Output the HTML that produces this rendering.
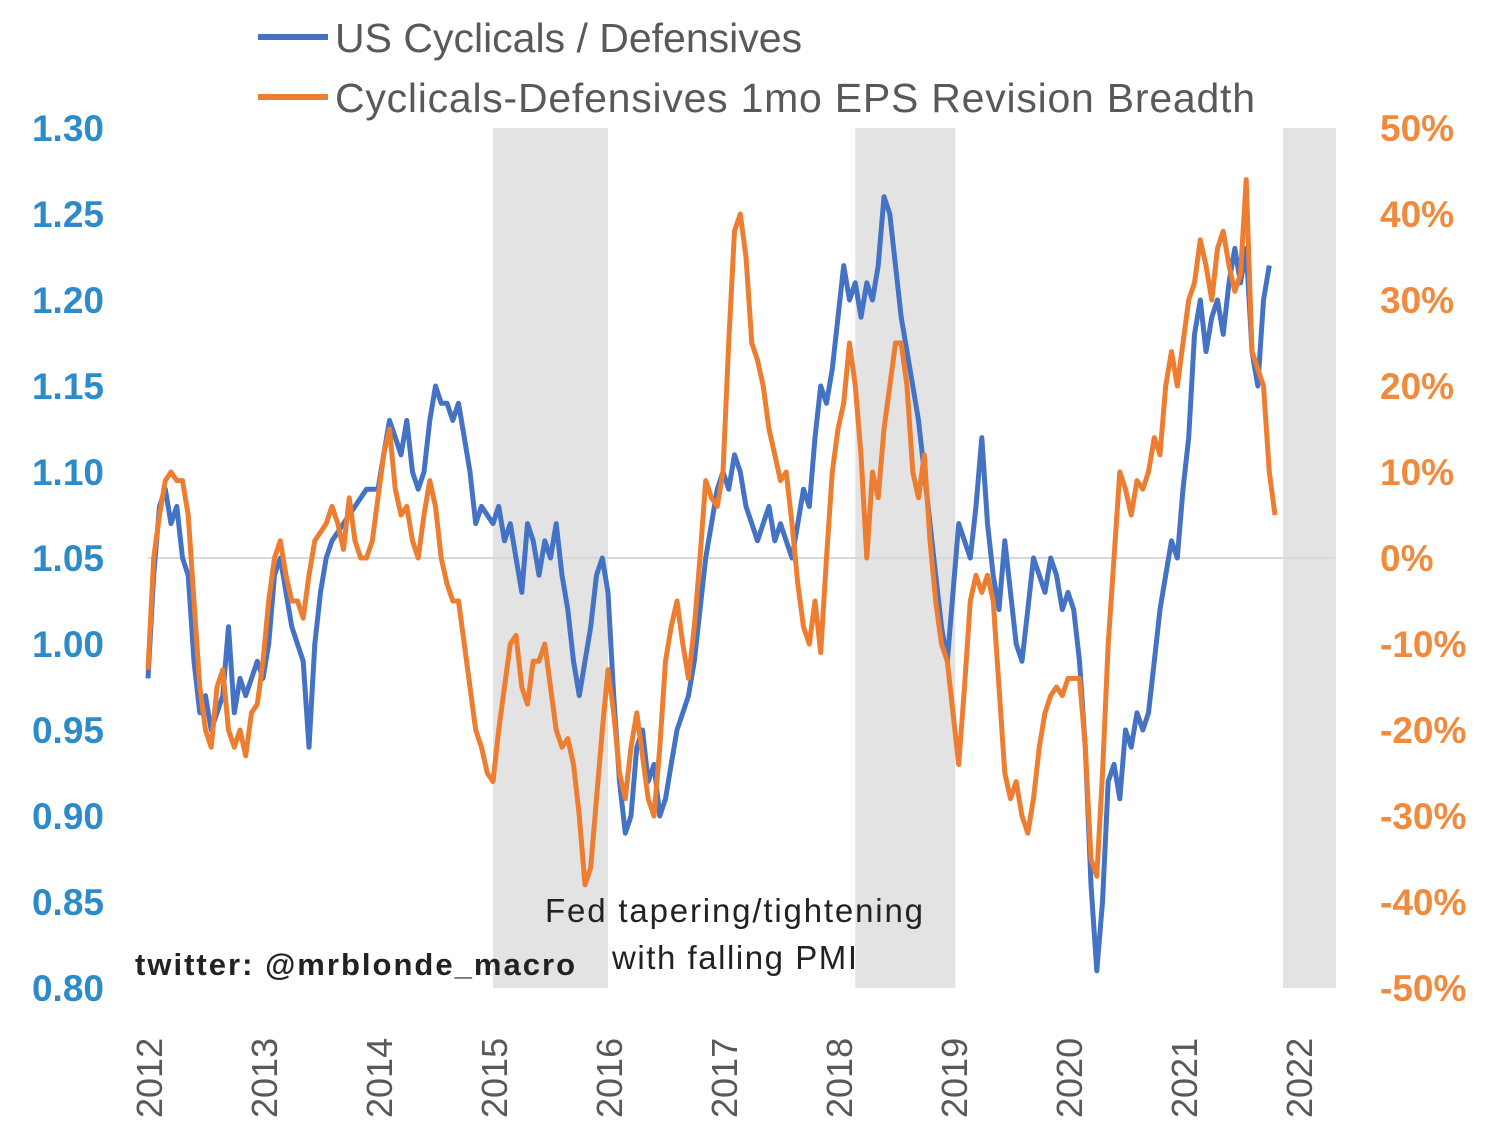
<!DOCTYPE html>
<html><head><meta charset="utf-8">
<style>
html,body{margin:0;padding:0;background:#fff;}
svg{display:block;font-family:"Liberation Sans",sans-serif;}
</style></head>
<body>
<svg id="chart" width="1500" height="1131" viewBox="0 0 1500 1131">
  <g id="shades"></g>
  <line x1="148" y1="558" x2="1336" y2="558" stroke="#d9d9d9" stroke-width="2"/>
  <g id="leftAxis"></g>
  <g id="rightAxis"></g>
  <g id="xAxis"></g>
  <g id="series"></g>
  <g>
    <line x1="258" y1="37" x2="328" y2="37" stroke="#4472c4" stroke-width="6"/>
    <text x="335" y="52" font-size="41" fill="#595959">US Cyclicals / Defensives</text>
    <line x1="258" y1="97" x2="328" y2="97" stroke="#ed7d31" stroke-width="6"/>
    <text x="335" y="112" font-size="41" fill="#595959" textLength="920">Cyclicals-Defensives 1mo EPS Revision Breadth</text>
  </g>
  <text x="545" y="922" font-size="33" fill="#222" textLength="378">Fed tapering/tightening</text>
  <text x="612" y="969" font-size="33" fill="#222" textLength="245">with falling PMI</text>
  <text x="135" y="975" font-size="31" font-weight="bold" fill="#222" textLength="440">twitter: @mrblonde_macro</text>
</svg>
<script>
const shadeStart = [2015.0, 2018.15, 2021.87];
const shadeEnd = [2016.0, 2019.02, 2022.33];
const leftTicks = [1.30,1.25,1.20,1.15,1.10,1.05,1.00,0.95,0.90,0.85,0.80];
const rightTicks = [50,40,30,20,10,0,-10,-20,-30,-40,-50];
const years = [2012,2013,2014,2015,2016,2017,2018,2019,2020,2021,2022];
const blueT = [2012.0,2012.05,2012.1,2012.15,2012.2,2012.25,2012.3,2012.35,2012.4,2012.45,2012.5,2012.55,2012.6,2012.65,2012.7,2012.75,2012.8,2012.85,2012.9,2012.95,2013.0,2013.05,2013.1,2013.15,2013.2,2013.25,2013.3,2013.35,2013.4,2013.45,2013.5,2013.55,2013.6,2013.7,2013.8,2013.9,2014.0,2014.05,2014.1,2014.15,2014.2,2014.25,2014.3,2014.35,2014.4,2014.45,2014.5,2014.55,2014.6,2014.65,2014.7,2014.75,2014.8,2014.85,2014.9,2015.0,2015.05,2015.1,2015.15,2015.2,2015.25,2015.3,2015.35,2015.4,2015.45,2015.5,2015.55,2015.6,2015.65,2015.7,2015.75,2015.8,2015.85,2015.9,2015.95,2016.0,2016.05,2016.1,2016.15,2016.2,2016.25,2016.3,2016.35,2016.4,2016.45,2016.5,2016.55,2016.6,2016.65,2016.7,2016.75,2016.8,2016.85,2016.9,2016.95,2017.0,2017.05,2017.1,2017.15,2017.2,2017.25,2017.3,2017.35,2017.4,2017.45,2017.5,2017.55,2017.6,2017.65,2017.7,2017.75,2017.8,2017.85,2017.9,2017.95,2018.0,2018.05,2018.1,2018.15,2018.2,2018.25,2018.3,2018.35,2018.4,2018.45,2018.5,2018.55,2018.6,2018.65,2018.7,2018.75,2018.8,2018.85,2018.9,2018.95,2019.0,2019.05,2019.1,2019.15,2019.2,2019.25,2019.3,2019.35,2019.4,2019.45,2019.5,2019.55,2019.6,2019.65,2019.7,2019.75,2019.8,2019.85,2019.9,2019.95,2020.0,2020.05,2020.1,2020.15,2020.2,2020.25,2020.3,2020.35,2020.4,2020.45,2020.5,2020.55,2020.6,2020.65,2020.7,2020.75,2020.8,2020.85,2020.9,2020.95,2021.0,2021.05,2021.1,2021.15,2021.2,2021.25,2021.3,2021.35,2021.4,2021.45,2021.5,2021.55,2021.6,2021.65,2021.7,2021.75];
const blueV = [0.98,1.04,1.08,1.09,1.07,1.08,1.05,1.04,0.99,0.96,0.97,0.95,0.96,0.97,1.01,0.96,0.98,0.97,0.98,0.99,0.98,1.0,1.04,1.05,1.03,1.01,1.0,0.99,0.94,1.0,1.03,1.05,1.06,1.07,1.08,1.09,1.09,1.11,1.13,1.12,1.11,1.13,1.1,1.09,1.1,1.13,1.15,1.14,1.14,1.13,1.14,1.12,1.10,1.07,1.08,1.07,1.08,1.06,1.07,1.05,1.03,1.07,1.06,1.04,1.06,1.05,1.07,1.04,1.02,0.99,0.97,0.99,1.01,1.04,1.05,1.03,0.97,0.92,0.89,0.90,0.94,0.95,0.92,0.93,0.90,0.91,0.93,0.95,0.96,0.97,0.99,1.02,1.05,1.07,1.09,1.10,1.09,1.11,1.10,1.08,1.07,1.06,1.07,1.08,1.06,1.07,1.06,1.05,1.07,1.09,1.08,1.12,1.15,1.14,1.16,1.19,1.22,1.20,1.21,1.19,1.21,1.20,1.22,1.26,1.25,1.22,1.19,1.17,1.15,1.13,1.10,1.07,1.04,1.01,0.99,1.03,1.07,1.06,1.05,1.08,1.12,1.07,1.04,1.02,1.06,1.03,1.00,0.99,1.02,1.05,1.04,1.03,1.05,1.04,1.02,1.03,1.02,0.99,0.94,0.86,0.81,0.85,0.92,0.93,0.91,0.95,0.94,0.96,0.95,0.96,0.99,1.02,1.04,1.06,1.05,1.09,1.12,1.18,1.20,1.17,1.19,1.20,1.18,1.21,1.23,1.21,1.23,1.17,1.15,1.20,1.22];
const orangeT = [2012.0,2012.05,2012.1,2012.15,2012.2,2012.25,2012.3,2012.35,2012.4,2012.45,2012.5,2012.55,2012.6,2012.65,2012.7,2012.75,2012.8,2012.85,2012.9,2012.95,2013.0,2013.05,2013.1,2013.15,2013.2,2013.25,2013.3,2013.35,2013.4,2013.45,2013.5,2013.55,2013.6,2013.65,2013.7,2013.75,2013.8,2013.85,2013.9,2013.95,2014.0,2014.05,2014.1,2014.15,2014.2,2014.25,2014.3,2014.35,2014.4,2014.45,2014.5,2014.55,2014.6,2014.65,2014.7,2014.75,2014.8,2014.85,2014.9,2014.95,2015.0,2015.05,2015.1,2015.15,2015.2,2015.25,2015.3,2015.35,2015.4,2015.45,2015.5,2015.55,2015.6,2015.65,2015.7,2015.75,2015.8,2015.85,2015.9,2015.95,2016.0,2016.05,2016.1,2016.15,2016.2,2016.25,2016.3,2016.35,2016.4,2016.45,2016.5,2016.55,2016.6,2016.65,2016.7,2016.75,2016.8,2016.85,2016.9,2016.95,2017.0,2017.05,2017.1,2017.15,2017.2,2017.25,2017.3,2017.35,2017.4,2017.45,2017.5,2017.55,2017.6,2017.65,2017.7,2017.75,2017.8,2017.85,2017.9,2017.95,2018.0,2018.05,2018.1,2018.15,2018.2,2018.25,2018.3,2018.35,2018.4,2018.45,2018.5,2018.55,2018.6,2018.65,2018.7,2018.75,2018.8,2018.85,2018.9,2018.95,2019.0,2019.05,2019.1,2019.15,2019.2,2019.25,2019.3,2019.35,2019.4,2019.45,2019.5,2019.55,2019.6,2019.65,2019.7,2019.75,2019.8,2019.85,2019.9,2019.95,2020.0,2020.05,2020.1,2020.15,2020.2,2020.25,2020.3,2020.35,2020.4,2020.45,2020.5,2020.55,2020.6,2020.65,2020.7,2020.75,2020.8,2020.85,2020.9,2020.95,2021.0,2021.05,2021.1,2021.15,2021.2,2021.25,2021.3,2021.35,2021.4,2021.45,2021.5,2021.55,2021.6,2021.65,2021.7,2021.75,2021.8];
const orangeV = [-13,0,5,9,10,9,9,5,-5,-15,-20,-22,-15,-13,-20,-22,-20,-23,-18,-17,-12,-5,0,2,-2,-5,-5,-7,-2,2,3,4,6,4,1,7,2,0,0,2,7,12,15,8,5,6,2,0,5,9,6,0,-3,-5,-5,-10,-15,-20,-22,-25,-26,-20,-15,-10,-9,-15,-17,-12,-12,-10,-15,-20,-22,-21,-24,-30,-38,-36,-28,-20,-13,-18,-25,-28,-22,-18,-23,-28,-30,-22,-12,-8,-5,-10,-14,-8,0,9,7,6,10,25,38,40,35,25,23,20,15,12,9,10,4,-3,-8,-10,-5,-11,0,10,15,18,25,20,12,0,10,7,15,20,25,25,20,10,7,12,2,-5,-10,-12,-18,-24,-15,-5,-2,-4,-2,-5,-15,-25,-28,-26,-30,-32,-28,-22,-18,-16,-15,-16,-14,-14,-14,-22,-35,-37,-25,-10,0,10,8,5,9,8,10,14,12,20,24,20,25,30,32,37,34,30,36,38,34,31,33,44,24,22,20,10,5];

const NS = "http://www.w3.org/2000/svg";
const x = t => 148 + (t - 2012) * 115;
const yL = v => 128 + (1.30 - v) / 0.5 * 860;
const yR = v => 128 + (50 - v) / 100 * 860;
function mk(tag, attrs, parent){const e=document.createElementNS(NS,tag);for(const k in attrs)e.setAttribute(k,attrs[k]);parent.appendChild(e);return e;}

const shades = document.getElementById('shades');
for (let i=0;i<shadeStart.length;i++){
  const r = mk('rect',{x:x(shadeStart[i]),y:128,width:x(shadeEnd[i])-x(shadeStart[i]),height:860,fill:'#e3e3e3'},shades);
  
  
}
const la = document.getElementById('leftAxis');
leftTicks.forEach(v=>{
  const t = mk('text',{x:104,y:yL(v)+13,'text-anchor':'end','font-size':37,'font-weight':'bold',fill:'#2e8bc9'},la);
  t.textContent = v.toFixed(2);
  
  
});
const ra = document.getElementById('rightAxis');
rightTicks.forEach(v=>{
  const t = mk('text',{x:1380,y:yR(v)+13,'font-size':37,'font-weight':'bold',fill:'#f08a3c'},ra);
  t.textContent = v + '%';
  
  
});
const xa = document.getElementById('xAxis');
years.forEach(yv=>{
  const px = x(yv)+14;
  const t = mk('text',{x:px,y:1118,'font-size':36,fill:'#595959',transform:`rotate(-90 ${px} 1118)`},xa);
  t.textContent = yv;
  
  
});
const sg = document.getElementById('series');
const dB = blueT.map((t,i)=>(i?'L':'M')+x(t).toFixed(1)+','+yL(blueV[i]).toFixed(1)).join('');
const pb = mk('path',{d:dB,fill:'none',stroke:'#4472c4','stroke-width':5,'stroke-linejoin':'round'},sg);


const dO = orangeT.map((t,i)=>(i?'L':'M')+x(t).toFixed(1)+','+yR(orangeV[i]).toFixed(1)).join('');
const po = mk('path',{d:dO,fill:'none',stroke:'#ed7d31','stroke-width':5,'stroke-linejoin':'round'},sg);


</script>
</body></html>
